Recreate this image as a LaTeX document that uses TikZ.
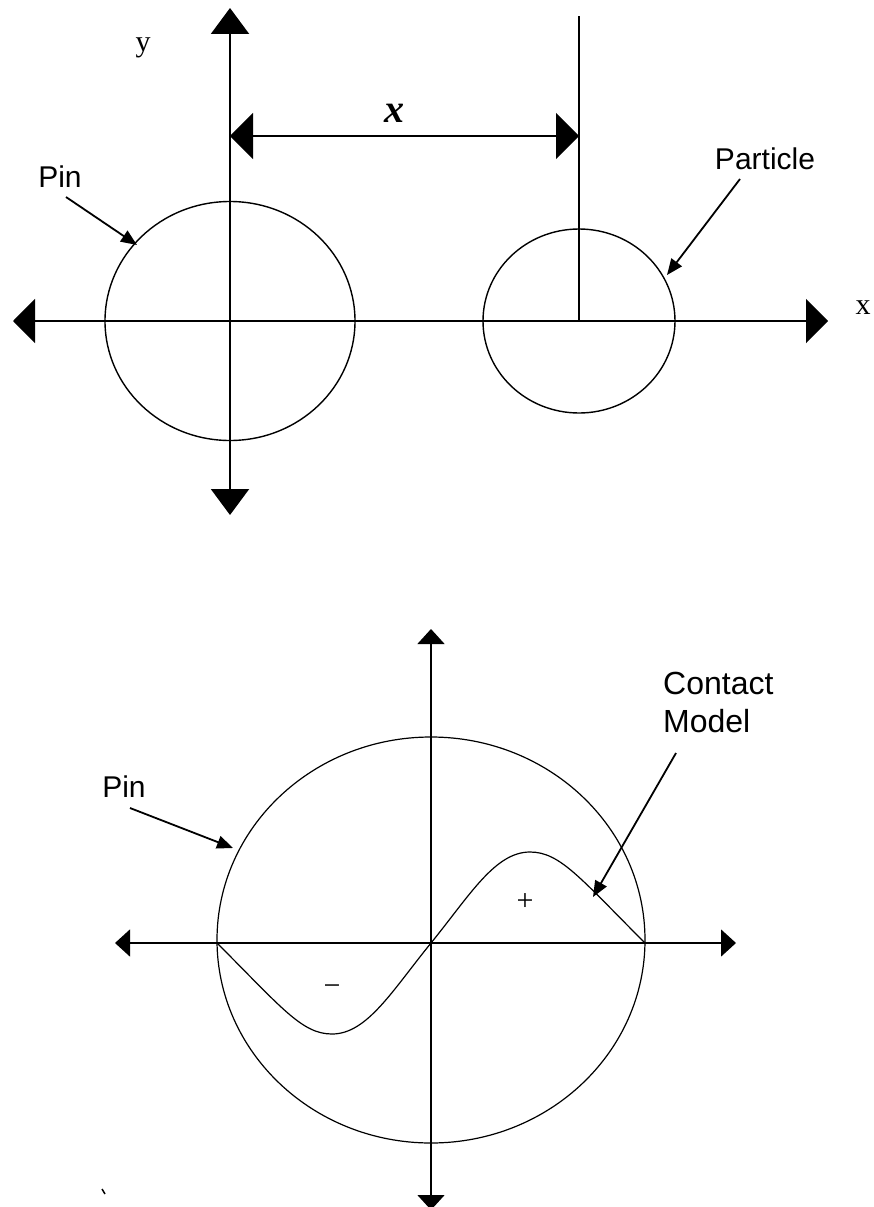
\documentclass[tikz,border=0pt]{standalone}
\usepackage{fontspec}
\setmainfont{Liberation Serif}
\newfontfamily\arialf{Liberation Sans}
\usetikzlibrary{arrows.meta}
\begin{document}
\begin{tikzpicture}[x=1pt,y=-1pt,
  bigax/.style={line width=2.4pt,{Triangle[length=22pt,width=44pt]}-{Triangle[length=22pt,width=44pt]}},
  vax/.style={line width=2.2pt,{Triangle[length=26pt,width=38pt]}-{Triangle[length=26pt,width=38pt]}},
  dimar/.style={line width=2.2pt,{Triangle[length=23pt,width=46pt]}-{Triangle[length=23pt,width=46pt]}},
  smallax/.style={line width=1.5pt,{Triangle[length=15pt,width=27pt]}-{Triangle[length=15pt,width=27pt]}},
  ptr/.style={line width=1.8pt,-{Triangle[length=16pt,width=13pt]}},
  ring/.style={line width=1.4pt},
  thinring/.style={line width=1.2pt},
  lab/.style={font=\arialf\fontsize{30}{36}\selectfont,inner sep=0pt},
  serlab/.style={font=\fontsize{30}{36}\selectfont,inner sep=0pt}]
\useasboundingbox (0,0) rectangle (874,1207);
% ---------- top diagram ----------
\coordinate (O1) at (230,321);
\coordinate (yt) at (230,8);
\coordinate (yb) at (230,515);
\coordinate (xl) at (13,321);
\coordinate (xr) at (828,321);
\coordinate (pc) at (579,321);
\coordinate (ptop) at (579,16);
\coordinate (dl) at (230,136);
\coordinate (dr) at (579,136);
\draw[ring] (O1) ellipse [x radius=125, y radius=119.5];
\draw[ring] (pc) ellipse [x radius=96, y radius=92];
\draw[bigax] (xl) -- (xr);
\draw[vax] (yb) -- (yt);
\draw[line width=2pt] (pc) -- (ptop);
\draw[dimar] (dl) -- (dr);
\node[font=\bfseries\itshape\fontsize{40}{44}\selectfont,inner sep=0pt] (xdim) at (394,113) {x};
\node[serlab] (ylab) at (143,48) {y};
\node[serlab] (xlab) at (863,308) {x};
\node[lab] (pin1) at (60,177) {Pin};
\coordinate (pin1s) at (66,197);
\coordinate (pin1t) at (137,245);
\draw[ptr] (pin1s) -- (pin1t);
\node[lab] (part) at (765,159) {Particle};
\coordinate (parts) at (740,179);
\coordinate (partt) at (667,275);
\draw[ptr] (parts) -- (partt);
% ---------- bottom diagram ----------
\coordinate (O2) at (431,943);
\coordinate (C2) at (431,940);
\coordinate (at) at (431,629);
\coordinate (ab) at (431,1210);
\coordinate (al) at (115,943);
\coordinate (ar) at (736,943);
\coordinate (L2) at (217,943);
\coordinate (R2) at (645,943);
\draw[thinring] (C2) ellipse [x radius=214, y radius=203];
\draw[smallax] (al) -- (ar);
\draw[smallax] (ab) -- (at);
\draw[thinring] (L2) .. controls (282,1008) and (302,1034) .. (332,1034)
  .. controls (367,1034) and (392,991) .. (O2)
  .. controls (470,895) and (495,852) .. (530,852)
  .. controls (560,852) and (580,878) .. (R2);
\node[serlab] (plus) at (525,902) {+};
\node[serlab] (minus) at (332,990) {−};
\node[font=\arialf\fontsize{32}{38}\selectfont,inner sep=0pt,align=left,anchor=north west] (cm) at (663,672) {Contact\\Model};
\coordinate (cms) at (676,753);
\coordinate (cmt) at (593,897);
\draw[ptr] (cms) -- (cmt);
\node[lab] (pin2) at (124,787) {Pin};
\coordinate (pin2s) at (130,808);
\coordinate (pin2t) at (233,848);
\draw[ptr] (pin2s) -- (pin2t);
\coordinate (tk1) at (102,1189);
\coordinate (tk2) at (105,1194);
\draw[line width=1.5pt] (tk1) -- (tk2);
\end{tikzpicture}
\end{document}
